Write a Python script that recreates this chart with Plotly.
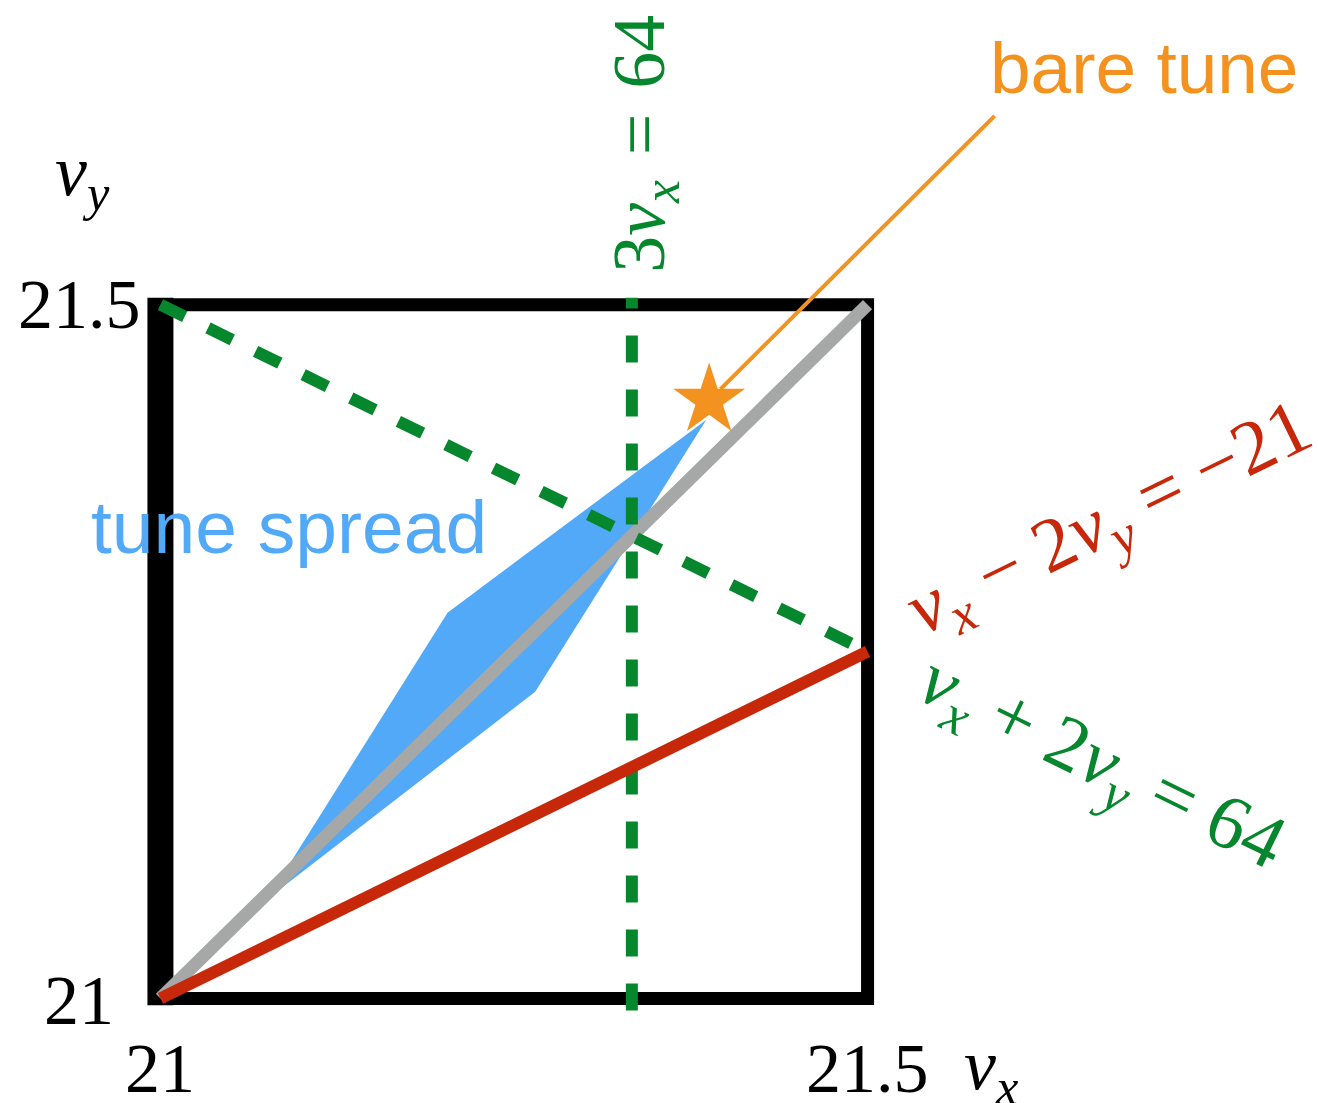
import plotly.graph_objects as go

# Tune diagram: resonance lines and tune spread in the (nu_x, nu_y) plane
nu_min, nu_max = 21.0, 21.5

# Resonance lines
res_3nux = 64 / 3                      # 3 nu_x = 64
diff_x = [21.0, 21.5]                  # nu_x - 2 nu_y = -21
diff_y = [(x + 21) / 2 for x in diff_x]
sum_x = [21.0, 21.5]                   # nu_x + 2 nu_y = 64
sum_y = [(64 - x) / 2 for x in sum_x]
diag_x = [21.0, 21.5]                  # coupling diagonal nu_x = nu_y
diag_y = [21.0, 21.5]

# Tune spread footprint (polygon)
spread_x = [21.076, 21.203, 21.386, 21.265, 21.076]
spread_y = [21.072, 21.278, 21.417, 21.221, 21.072]

# Bare working point
bare_x = [21.388]
bare_y = [21.431]

tick_vals = [21.0, 21.5]
tick_text = ["21", "21.5"]

GREEN = "#06872D"
RED = "#C8280A"
ORANGE = "#F3921E"
BLUE = "#52A9F7"
GRAY = "#A5A8A6"
SERIF = "Liberation Serif"
SANS = "Liberation Sans"

# pixel scale of the axes
ppx, ppy = 1416.0, 1386.0
pad = 0.03
W, H = 1318, 1103
left_px, bottom_px = 160.0, 998.0
ml = left_px - pad * ppx
mb = (H - bottom_px) - pad * ppy
pw = (nu_max - nu_min + 2 * pad) * ppx
ph = (nu_max - nu_min + 2 * pad) * ppy
mr = W - ml - pw
mt = H - mb - ph

x0, x1 = nu_min - pad, nu_max + pad
y0, y1 = nu_min - pad, nu_max + pad


def paper_x(v):
    return (v - x0) / (x1 - x0)


def paper_y(v):
    return (v - y0) / (y1 - y0)


fig = go.Figure()

# frame
fig.add_trace(go.Scatter(
    x=[nu_min, nu_max, nu_max, nu_min, nu_min],
    y=[nu_min, nu_min, nu_max, nu_max, nu_min],
    mode="lines", line=dict(color="black", width=13), hoverinfo="skip"))
fig.add_trace(go.Scatter(
    x=[nu_min, nu_min], y=[nu_min - 0.005, nu_max + 0.005],
    mode="lines", line=dict(color="black", width=26), hoverinfo="skip"))

# tune spread
fig.add_trace(go.Scatter(
    x=spread_x, y=spread_y, mode="lines", fill="toself",
    fillcolor=BLUE, line=dict(width=0), hoverinfo="skip"))

# diagonal
fig.add_trace(go.Scatter(
    x=diag_x, y=diag_y, mode="lines",
    line=dict(color=GRAY, width=13), hoverinfo="skip"))

# nu_x + 2 nu_y = 64 (dashed)
fig.add_trace(go.Scatter(
    x=sum_x, y=sum_y, mode="lines",
    line=dict(color=GREEN, width=12, dash="27px,26px"), hoverinfo="skip"))

# 3 nu_x = 64 (dashed, drawn bottom to top)
fig.add_trace(go.Scatter(
    x=[res_3nux, res_3nux], y=[nu_min - 0.0087, nu_max + 0.005], mode="lines",
    line=dict(color=GREEN, width=12, dash="27px,27px"), hoverinfo="skip"))

# nu_x - 2 nu_y = -21
fig.add_trace(go.Scatter(
    x=diff_x, y=diff_y, mode="lines",
    line=dict(color=RED, width=12), hoverinfo="skip"))

# bare tune
fig.add_trace(go.Scatter(
    x=bare_x, y=bare_y, mode="markers", cliponaxis=False,
    marker=dict(symbol="star", size=54, color=ORANGE, line=dict(width=0)),
    hoverinfo="skip"))

ann = []
tick_font = dict(family=SERIF, size=70, color="black")
# tick labels
for v, t in zip(tick_vals, tick_text):
    ann.append(dict(xref="paper", yref="paper", x=paper_x(v), y=paper_y(nu_min),
                    text=t, showarrow=False, xanchor="center",
                    yanchor="middle", yshift=-70, font=tick_font))
ann.append(dict(xref="paper", yref="paper", x=paper_x(nu_min), y=paper_y(tick_vals[1]),
                text=tick_text[1], showarrow=False,
                xanchor="right", yanchor="middle", xshift=-17, font=tick_font))
ann.append(dict(xref="paper", yref="paper", x=paper_x(nu_min), y=paper_y(tick_vals[0]),
                text=tick_text[0], showarrow=False,
                xanchor="right", yanchor="middle", xshift=-44, yshift=-2,
                font=tick_font))

# axis names
ann.append(dict(xref="paper", yref="paper", x=paper_x(21.5876), y=paper_y(20.9487),
                text="<i>ν<sub>x</sub></i>",
                showarrow=False, xanchor="center", yanchor="middle",
                font=dict(family=SERIF, size=72, color="black")))
ann.append(dict(xref="paper", yref="paper", x=paper_x(20.945), y=paper_y(21.5924),
                text="<i>ν<sub>y</sub></i>",
                showarrow=False, xanchor="center", yanchor="middle",
                font=dict(family=SERIF, size=72, color="black")))

# resonance labels
ann.append(dict(xref="paper", yref="paper", x=paper_x(21.3425), y=paper_y(21.6158),
                text="3<i>ν<sub>x</sub></i>\u2004=\u200464", textangle=-90,
                showarrow=False, xanchor="center", yanchor="middle",
                font=dict(family=SERIF, size=74, color=GREEN)))
ann.append(dict(xref="paper", yref="paper", x=paper_x(21.6716), y=paper_y(21.3434),
                text="<i>ν<sub>x</sub></i> − 2<i>ν<sub>y</sub></i> = −21",
                textangle=-26, showarrow=False, xanchor="center", yanchor="middle",
                font=dict(family=SERIF, size=77, color=RED)))
ann.append(dict(xref="paper", yref="paper", x=paper_x(21.6653), y=paper_y(21.1681),
                text="<i>ν<sub>x</sub></i> + 2<i>ν<sub>y</sub></i> = 64",
                textangle=26, showarrow=False, xanchor="center", yanchor="middle",
                font=dict(family=SERIF, size=77, color=GREEN)))

# text labels
ann.append(dict(xref="paper", yref="paper", x=paper_x(21.6955), y=paper_y(21.671),
                text="bare tune", showarrow=False,
                xanchor="center", yanchor="middle",
                font=dict(family=SANS, size=73, color=ORANGE)))
ann.append(dict(xref="paper", yref="paper", x=paper_x(21.0911), y=paper_y(21.3398),
                text="tune spread", showarrow=False,
                xanchor="center", yanchor="middle",
                font=dict(family=SANS, size=75, color=BLUE)))

# pointer to the bare tune
ann.append(dict(x=bare_x[0], y=bare_y[0], text="", showarrow=True,
                ax=287, ay=-286, arrowhead=0, arrowwidth=4,
                arrowcolor=ORANGE, standoff=16))

fig.update_layout(
    width=W, height=H,
    margin=dict(l=ml, r=mr, t=mt, b=mb, pad=0, autoexpand=False),
    paper_bgcolor="white", plot_bgcolor="white",
    showlegend=False,
    xaxis=dict(range=[x0, x1], visible=False, fixedrange=True),
    yaxis=dict(range=[y0, y1], visible=False, fixedrange=True),
    annotations=ann,
)

fig.write_html("out.html")
